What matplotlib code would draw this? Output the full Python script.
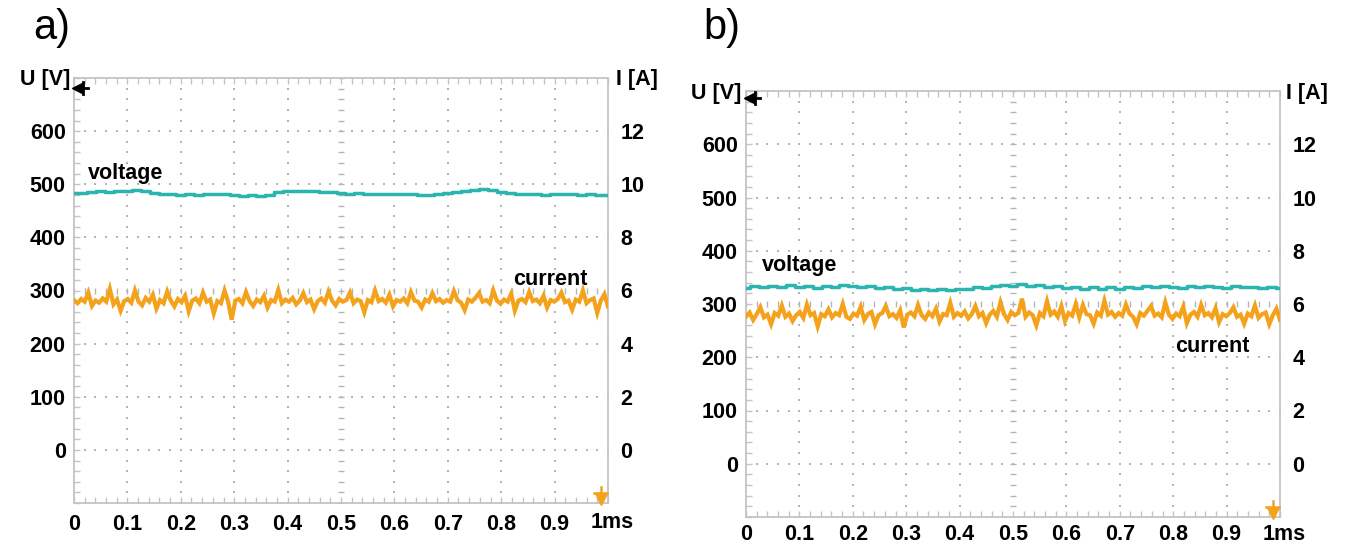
import numpy as np
import matplotlib
matplotlib.use("Agg")
import matplotlib.pyplot as plt

# ---------------- data ----------------
panel_labels = ["a)", "b)"]
x_ticks = [0, 0.1, 0.2, 0.3, 0.4, 0.5, 0.6, 0.7, 0.8, 0.9]
x_tick_labels = ["0", "0.1", "0.2", "0.3", "0.4", "0.5", "0.6", "0.7", "0.8", "0.9"]
u_ticks = [0, 100, 200, 300, 400, 500, 600]
i_ticks = [0, 2, 4, 6, 8, 10, 12]

# voltage [V], panel a
voltage_a = [483, 484, 486, 487, 486, 488, 487, 489, 487, 484, 482, 481, 480, 482, 480,
             481, 482, 481, 480, 478, 479, 477, 480, 485, 487, 488, 488, 487, 486, 485,
             483, 482, 483, 482, 481, 482, 481, 482, 481, 479, 480, 482, 484, 486, 488,
             490, 491, 490, 486, 483, 482, 481, 482, 480, 481, 482, 481, 480, 481, 480, 479]
# voltage [V], panel b
voltage_b = [330, 333, 331, 334, 332, 335, 331, 333, 330, 334, 332, 335, 333, 331, 334,
             330, 332, 328, 330, 327, 329, 326, 328, 327, 329, 328, 331, 330, 333, 336,
             334, 337, 333, 335, 331, 333, 330, 332, 329, 331, 328, 331, 329, 332, 330,
             333, 331, 334, 332, 330, 333, 331, 334, 332, 330, 333, 331, 332, 330, 331, 330]
# current [A], panel a
current_a = [5.64, 5.52, 5.68, 5.58, 5.92, 5.42, 5.62, 5.54, 5.70, 5.58, 6.06, 5.48, 5.66, 5.24, 5.60,
             5.68, 5.54, 6.00, 5.58, 5.44, 5.72, 5.58, 5.84, 5.32, 5.64, 5.52, 5.96, 5.62, 5.40, 5.68,
             5.56, 5.80, 5.22, 5.62, 5.70, 5.52, 5.92, 5.58, 5.66, 5.14, 5.60, 5.52, 6.00, 5.58, 4.90,
             5.62, 5.68, 5.52, 5.94, 5.60, 5.42, 5.66, 5.56, 5.80, 5.36, 5.64, 5.58, 6.02, 5.52, 5.66,
             5.58, 5.72, 5.48, 5.62, 5.90, 5.56, 5.66, 5.30, 5.60, 5.70, 5.54, 5.96, 5.62, 5.44, 5.68,
             5.58, 5.64, 5.92, 5.52, 5.66, 5.60, 5.18, 5.64, 5.56, 6.00, 5.60, 5.68, 5.54, 5.84, 5.40,
             5.64, 5.58, 5.70, 5.52, 5.94, 5.62, 5.58, 5.36, 5.66, 5.58, 5.90, 5.60, 5.68, 5.54, 5.64,
             5.58, 5.98, 5.64, 5.54, 5.26, 5.66, 5.58, 5.72, 5.90, 5.58, 5.64, 5.52, 6.00, 5.62, 5.50,
             5.66, 5.58, 5.88, 5.24, 5.62, 5.68, 5.56, 5.94, 5.60, 5.66, 5.52, 5.80, 5.36, 5.64, 5.58,
             5.68, 5.92, 5.56, 5.62, 5.28, 5.66, 5.58, 6.00, 5.52, 5.64, 5.70, 5.16, 5.62, 5.86, 5.40]
# current [A], panel b
current_b = [5.52, 5.68, 5.40, 5.62, 5.88, 5.50, 5.60, 5.24, 5.66, 5.56, 5.94, 5.52, 5.64, 5.36, 5.58,
             5.70, 5.48, 5.98, 5.58, 5.66, 5.16, 5.62, 5.54, 5.80, 5.50, 5.66, 5.58, 6.00, 5.52, 5.44,
             5.64, 5.56, 5.90, 5.40, 5.62, 5.70, 5.24, 5.58, 5.66, 5.92, 5.54, 5.62, 5.48, 5.76, 5.12,
             5.60, 5.68, 5.54, 5.96, 5.58, 5.44, 5.68, 5.54, 5.82, 5.34, 5.62, 5.58, 6.04, 5.52, 5.66,
             5.56, 5.72, 5.46, 5.62, 5.92, 5.54, 5.66, 5.28, 5.60, 5.74, 5.52, 6.06, 5.62, 5.40, 5.70,
             5.58, 5.66, 6.20, 5.52, 5.68, 5.58, 5.20, 5.66, 5.54, 6.10, 5.60, 5.72, 5.52, 5.92, 5.36,
             5.66, 5.56, 6.00, 5.50, 5.96, 5.62, 5.58, 5.26, 5.68, 5.56, 6.12, 5.60, 5.70, 5.52, 5.66,
             5.56, 5.98, 5.64, 5.52, 5.24, 5.66, 5.56, 5.74, 5.92, 5.56, 5.64, 5.50, 6.06, 5.60, 5.44,
             5.64, 5.54, 5.90, 5.28, 5.60, 5.70, 5.52, 5.96, 5.58, 5.66, 5.50, 5.84, 5.32, 5.62, 5.54,
             5.66, 5.88, 5.52, 5.60, 5.26, 5.64, 5.54, 5.94, 5.48, 5.62, 5.68, 5.24, 5.58, 5.82, 5.40]

# ---------------- style ----------------
W, H = 1345, 546
TEAL = "#2ab5ae"
ORANGE = "#f4a21c"
GRID = "#b4b4b4"
FRAME = "#c4c4c4"
FONT = "Liberation Sans"
FS = 15.5

plt.rcParams["font.family"] = [FONT, "DejaVu Sans"]

fig = plt.figure(figsize=(W / 100, H / 100), dpi=100)


def px(x, y):
    return x / W, 1 - y / H


def make_panel(rect, volt, curr, lab_v, lab_c, arrow_v, xpad):
    l, t, r, b = rect
    ax = fig.add_axes([l / W, 1 - b / H, (r - l) / W, (b - t) / H])
    ax.set_xlim(0, 1)
    ax.set_ylim(-100, 700)
    for s in ax.spines.values():
        s.set_color(FRAME)
        s.set_linewidth(1.3)
    # grid dots
    xmin = np.arange(0, 1.0001, 0.02)
    ymin = np.arange(-100, 700.1, 20)
    for xv in np.arange(0.1, 0.95, 0.1):
        if abs(xv - 0.5) < 1e-6:
            ax.plot(np.full_like(ymin, xv), ymin, ls="none", marker="_", ms=5,
                    mew=1.0, color=GRID, zorder=1)
        else:
            ax.plot(np.full_like(ymin, xv), ymin, ls="none", marker="s", ms=1.5,
                    mew=0, color=GRID, zorder=1)
    for yv in range(0, 601, 100):
        if yv == 300:
            ax.plot(xmin, np.full_like(xmin, yv), ls="none", marker="|", ms=5,
                    mew=1.0, color=GRID, zorder=1)
        else:
            ax.plot(xmin, np.full_like(xmin, yv), ls="none", marker="s", ms=1.5,
                    mew=0, color=GRID, zorder=1)
    # ticks
    ax.set_xticks(x_ticks)
    ax.set_xticklabels(x_tick_labels, fontsize=FS, fontweight="bold")
    ax.set_xticks(xmin, minor=True)
    ax.set_yticks(u_ticks)
    ax.set_yticklabels([str(v) for v in u_ticks], fontsize=FS, fontweight="bold")
    ax.set_yticks(ymin, minor=True)
    ax.tick_params(which="both", direction="in", color=FRAME, length=4, width=1,
                   top=True, right=True)
    ax.tick_params(axis="x", which="major", pad=xpad)
    ax.tick_params(axis="y", which="major", pad=6)

    # traces
    tv = np.linspace(0, 1, len(volt))
    ax.plot(tv, volt, color=TEAL, lw=2.5, drawstyle="steps-mid", zorder=3)

    axi = ax.twinx()
    axi.set_ylim(-2, 14)
    for s in axi.spines.values():
        s.set_visible(False)
    axi.set_yticks(i_ticks)
    axi.set_yticklabels([str(v) for v in i_ticks], fontsize=FS, fontweight="bold")
    axi.tick_params(axis="y", length=0, pad=9)
    tc = np.linspace(0, 1, len(curr))
    axi.plot(tc, curr, color=ORANGE, lw=3.0, solid_joinstyle="miter", zorder=3)

    # labels on traces
    ax.text(lab_v[0], lab_v[1], "voltage", fontsize=FS, fontweight="bold",
            ha="left", va="center", zorder=5)
    ax.text(lab_c[0], lab_c[1], "current", fontsize=FS, fontweight="bold",
            ha="left", va="center", zorder=5)

    # reference markers
    ax.plot([0.004, 0.026], [arrow_v, arrow_v], color="black", lw=2.0,
            clip_on=False, zorder=6)
    ax.plot([0.006], [arrow_v], marker="<", ms=7, color="black", clip_on=False, zorder=6)
    ax.plot([0.016, 0.016], [arrow_v - 11, arrow_v + 11], color="black", lw=2.0,
            clip_on=False, zorder=6)
    ax.plot([0.986], [-93], marker="v", ms=8, color=ORANGE, clip_on=False, zorder=6)
    ax.plot([0.986, 0.986], [-95, -70], color=ORANGE, lw=1.8, clip_on=False, zorder=6)
    ax.plot([0.974, 0.998], [-82, -82], color=ORANGE, lw=1.8, clip_on=False, zorder=6)
    return ax


axA = make_panel((74, 78, 608, 503), voltage_a, current_a,
                 (0.026, 520), (0.822, 320), 681, 8)
axB = make_panel((746, 91, 1280, 517), voltage_b, current_b,
                 (0.030, 372), (0.803, 221), 687, 5)

# axis unit labels and "1ms"
fig.text(*px(70, 80), "U [V]", fontsize=FS, fontweight="bold", ha="right", va="center")
fig.text(*px(616, 80), "I [A]", fontsize=FS, fontweight="bold", ha="left", va="center")
fig.text(*px(741, 93), "U [V]", fontsize=FS, fontweight="bold", ha="right", va="center")
fig.text(*px(1286, 93), "I [A]", fontsize=FS, fontweight="bold", ha="left", va="center")
fig.text(*px(591, 523), "1ms", fontsize=FS, fontweight="bold", ha="left", va="center")
fig.text(*px(1263, 534), "1ms", fontsize=FS, fontweight="bold", ha="left", va="center")

# panel labels
fig.text(*px(33, 28), panel_labels[0], fontsize=30, ha="left", va="center")
fig.text(*px(703, 28), panel_labels[1], fontsize=30, ha="left", va="center")

fig.savefig("out.png", dpi=100)
